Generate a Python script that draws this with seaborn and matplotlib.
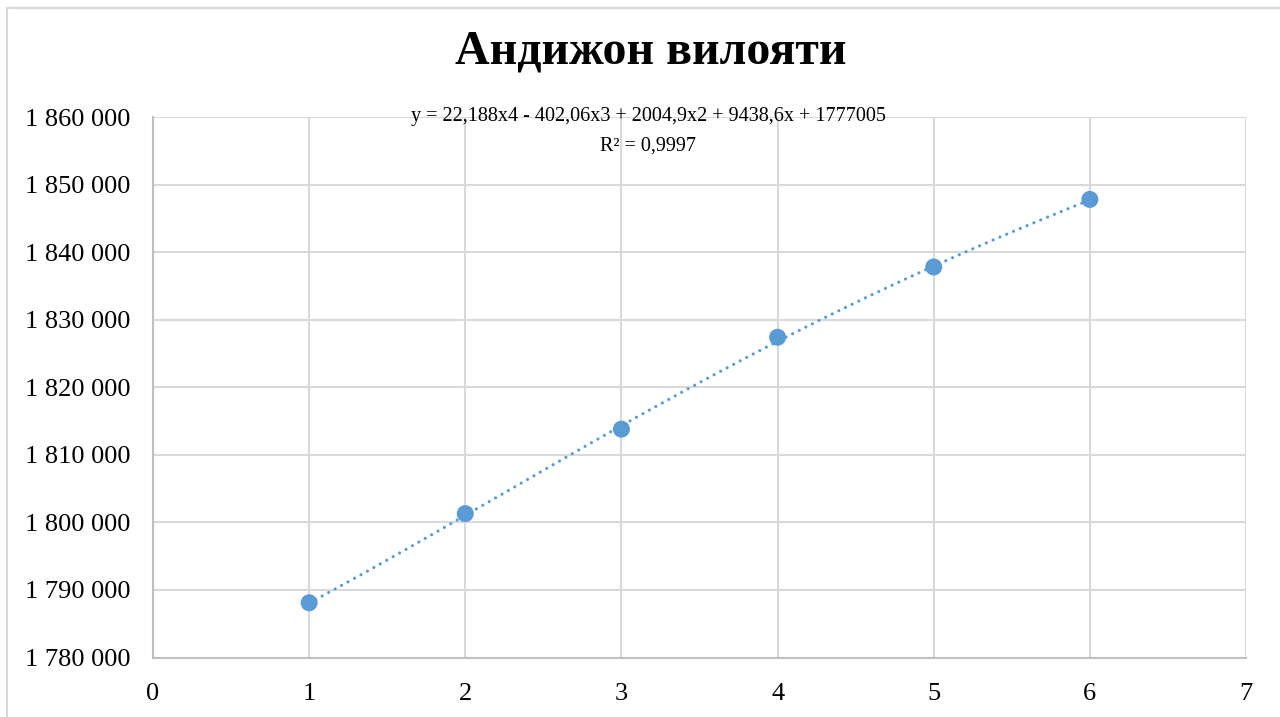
import numpy as np
import pandas as pd
import matplotlib
matplotlib.use("Agg")
import matplotlib.pyplot as plt
import seaborn as sns
from matplotlib.ticker import FuncFormatter

# === Data ===
years = [1, 2, 3, 4, 5, 6]
population = [1788100, 1801300, 1813800, 1827400, 1837800, 1847800]
# trendline coefficients as shown on the chart (x^4 .. x^0)
trend_coef = [22.188, -402.06, 2004.9, 9438.6, 1777005]
title = "Андижон вилояти"
eq_text = "y = 22,188x4 - 402,06x3 + 2004,9x2 + 9438,6x + 1777005\nR² = 0,9997"

df = pd.DataFrame({"x": years, "y": population})

# === Style ===
sns.set_theme(style="white")
plt.rcParams["font.family"] = ["Liberation Serif", "DejaVu Serif"]
plt.rcParams["text.color"] = "black"
blue = "#5B9BD5"
grid_c = "#D9D9D9"

fig = plt.figure(figsize=(12.8, 7.17), dpi=100)
ax = fig.add_axes([153 / 1280, 1 - 657.5 / 717, (1246 - 153) / 1280, (657.5 - 117) / 717])

# trendline
xt = np.linspace(years[0], years[-1], 300)
yt = np.polyval(trend_coef, xt)
ax.plot(xt, yt, color=blue, lw=2.3, ls=(0, (0.01, 2.3)), dash_capstyle="round", zorder=3)

sns.scatterplot(data=df, x="x", y="y", ax=ax, color=blue, s=150, edgecolor="none", zorder=4)

# === Axes ===
ax.set_xlim(0, 7)
ax.set_ylim(1780000, 1860000)
ax.set_xticks(range(0, 8))
ax.set_yticks(range(1780000, 1860001, 10000))
ax.yaxis.set_major_formatter(FuncFormatter(lambda v, p: f"{int(v):,}".replace(",", " ")))
ax.set_xlabel("")
ax.set_ylabel("")
ax.grid(True, color=grid_c, lw=1.5)
ax.set_axisbelow(True)
for s in ["top", "right"]:
    ax.spines[s].set_visible(False)
for s in ["left", "bottom"]:
    ax.spines[s].set_color("#BFBFBF")
    ax.spines[s].set_linewidth(1.5)
ax.tick_params(axis="both", length=0, labelsize=19, colors="black")
ax.tick_params(axis="y", pad=16.5)
ax.tick_params(axis="x", pad=18)

# title and trendline label
fig.text(651 / 1280, 1 - 52 / 717, title, ha="center", va="center",
         fontsize=34.5, fontweight="bold", color="black")
fig.text(648 / 1280, 1 - 131 / 717, eq_text, ha="center", va="center",
         fontsize=14.5, linespacing=1.75, color="black")

# chart border (cropped on right/bottom)
fig.add_artist(plt.Line2D([7 / 1280, 1], [1 - 8 / 717, 1 - 8 / 717], color=grid_c, lw=1.5))
fig.add_artist(plt.Line2D([7 / 1280, 7 / 1280], [0, 1 - 8 / 717], color=grid_c, lw=1.5))

plt.savefig("out.png", dpi=100)
plt.close()
